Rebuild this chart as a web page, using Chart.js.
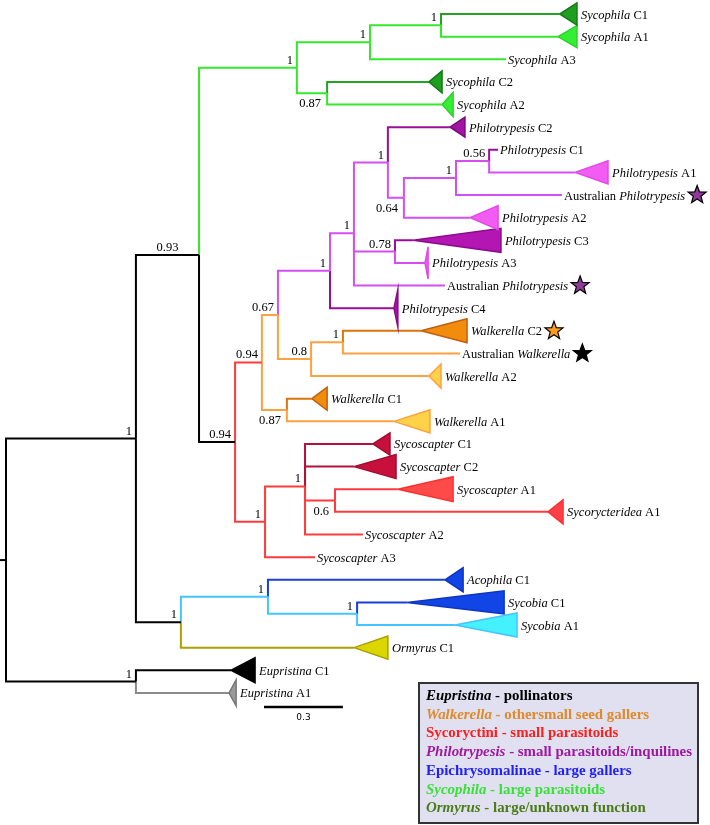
<!DOCTYPE html>
<html>
<head>
<meta charset="utf-8">
<script src="https://cdn.jsdelivr.net/npm/chart.js@4.4.0/dist/chart.umd.min.js"></script>
<style>
  html, body { margin: 0; padding: 0; background: #fff; }
  #wrap { position: relative; width: 710px; height: 825px; }
</style>
</head>
<body>
<div id="wrap"><canvas id="tree"></canvas></div>
<script>
// internal nodes: id, parent, depth from root (substitutions/site), support
var nodeIds = ['root', 'ING', 'EUP', 'A', 'L', 'S', 'S1', 'S11', 'S2', 'B', 'PW', 'PW2', 'P', 'P1',
  'P11', 'P111', 'P1111', 'P11111', 'P12', 'W', 'W1', 'WC', 'SY', 'SY1', 'SA', 'E', 'SB'];
var nodeParents = [null, 'root', 'root', 'ING', 'ING', 'A', 'S', 'S1', 'S', 'A', 'B', 'PW', 'PW2', 'P',
  'P1', 'P11', 'P111', 'P1111', 'P1', 'PW2', 'W', 'PW', 'B', 'SY', 'SY1', 'L', 'E'];
var nodeDepths = [0, 0.494, 0.494, 0.734, 0.665, 1.106, 1.384, 1.654, 1.221, 0.871, 0.973, 1.034, 1.232, 1.323,
  1.452, 1.513, 1.711, 1.837, 1.479, 1.160, 1.281, 1.068, 0.985, 1.137, 1.251, 0.996, 1.335];
var nodeSupport = ['', '1', '1', '0.93', '1', '1', '1', '1', '0.87', '0.94', '0.94', '0.67', '1', '1',
  '1', '0.64', '1', '0.56', '0.78', '0.8', '1', '0.87', '1', '1', '0.6', '1', '1'];
var rootStub = 0.03;

// tips, top to bottom
var tipIds = ['SycC1', 'SycA1', 'SycA3', 'SycC2', 'SycA2', 'PhC2', 'PhC1', 'PhA1', 'AusP', 'PhA2', 'PhC3',
  'PhA3', 'AusP2', 'PhC4', 'WaC2', 'AusW', 'WaA2', 'WaC1', 'WaA1', 'ScC1', 'ScC2', 'ScA1', 'SrA1', 'ScA2',
  'ScA3', 'AcoC1', 'SbC1', 'SbA1', 'OrmC1', 'EupC1', 'EupA1'];
var tipParents = ['S11', 'S11', 'S1', 'S2', 'S2', 'P11', 'P11111', 'P11111', 'P1111', 'P111', 'P12',
  'P12', 'P1', 'P', 'W1', 'W1', 'W', 'WC', 'WC', 'SY1', 'SY1', 'SA', 'SA', 'SY1',
  'SY', 'E', 'SB', 'SB', 'L', 'EUP', 'EUP'];
var tipDepths = [2.106, 2.099, 1.901, 1.608, 1.658, 1.688, 1.871, 2.163, 2.114, 1.764, 1.548,
  1.593, 1.669, 1.475, 1.578, 1.726, 1.608, 1.163, 1.475, 1.395, 1.323, 1.490, 2.061, 1.357,
  1.175, 1.669, 1.525, 1.707, 1.323, 0.856, 0.848];
// collapsed clades: deepest member and half-height (rows); null = single taxon
var cladeDepths = [2.171, 2.171, null, 1.658, 1.700, 1.745, null, 2.289, null, 1.871, 1.882,
  1.605, null, 1.490, 1.753, null, 1.654, 1.221, 1.612, 1.460, 1.483, 1.700, 2.118, null,
  null, 1.738, 1.894, 1.943, 1.452, 0.947, 0.875];
var cladeSpread = [0.49, 0.49, 0, 0.49, 0.53, 0.44, 0, 0.51, 0, 0.53, 0.53,
  0.71, 0, 0.84, 0.53, 0, 0.53, 0.51, 0.51, 0.49, 0.53, 0.55, 0.53, 0,
  0, 0.53, 0.51, 0.53, 0.51, 0.55, 0.57];
var tipPrefix = ['', '', '', '', '', '', '', '', 'Australian', '', '',
  '', 'Australian', '', '', 'Australian', '', '', '', '', '', '', '', '',
  '', '', '', '', '', '', ''];
var tipGenus = ['Sycophila', 'Sycophila', 'Sycophila', 'Sycophila', 'Sycophila', 'Philotrypesis',
  'Philotrypesis', 'Philotrypesis', 'Philotrypesis', 'Philotrypesis', 'Philotrypesis', 'Philotrypesis',
  'Philotrypesis', 'Philotrypesis', 'Walkerella', 'Walkerella', 'Walkerella', 'Walkerella', 'Walkerella',
  'Sycoscapter', 'Sycoscapter', 'Sycoscapter', 'Sycorycteridea', 'Sycoscapter', 'Sycoscapter',
  'Acophila', 'Sycobia', 'Sycobia', 'Ormyrus', 'Eupristina', 'Eupristina'];
var tipSuffix = ['C1', 'A1', 'A3', 'C2', 'A2', 'C2', 'C1', 'A1', '', 'A2', 'C3',
  'A3', '', 'C4', 'C2', '', 'A2', 'C1', 'A1', 'C1', 'C2', 'A1', 'A1', 'A2',
  'A3', 'C1', 'C1', 'A1', 'C1', 'C1', 'A1'];

var scaleBarLength = 0.3;

var legendGroups = ['Eupristina', 'Walkerella', 'Sycoryctini', 'Philotrypesis', 'Epichrysomalinae', 'Sycophila', 'Ormyrus'];
var legendRoles = ['pollinators', 'othersmall seed gallers', 'small parasitoids', 'small parasitoids/inquilines',
  'large gallers', 'large parasitoids', 'large/unknown function'];
var legendItalic = [true, true, false, true, false, true, true];

// ---- styles ----
var C = {
  black: '#000000', green: '#36e82c', dkgreen: '#22a422', magenta: '#d64ef2', purple: '#9a0e9a',
  orange: '#ffa140', dkorange: '#da7608', red: '#ff3a3a', crimson: '#b3103a', blue: '#1a3fd8',
  lblue: '#45c4ff', olive: '#aaa000', gray: '#8a8a8a'
};
var branchColors = {
  ING: C.black, EUP: C.black, A: C.black, L: C.black, S: C.green, S1: C.green, S11: C.green, S2: C.green,
  B: C.black, PW: C.red, PW2: C.orange, P: C.magenta, P1: C.magenta, P11: C.magenta, P111: C.magenta,
  P1111: C.magenta, P11111: C.magenta, P12: C.magenta, W: C.orange, W1: C.orange, WC: C.orange,
  SY: C.red, SY1: C.red, SA: C.red, E: C.lblue, SB: C.lblue,
  SycC1: C.dkgreen, SycA1: C.green, SycA3: C.green, SycC2: C.dkgreen, SycA2: C.green,
  PhC2: C.purple, PhC1: C.purple, PhA1: C.magenta, AusP: C.magenta, PhA2: C.magenta, PhC3: C.purple,
  PhA3: C.magenta, AusP2: C.magenta, PhC4: C.purple, WaC2: C.dkorange, AusW: C.orange, WaA2: C.orange,
  WaC1: C.dkorange, WaA1: C.orange, ScC1: C.crimson, ScC2: C.crimson, ScA1: C.red, SrA1: C.red,
  ScA2: C.red, ScA3: C.red, AcoC1: C.blue, SbC1: C.blue, SbA1: C.lblue, OrmC1: C.olive,
  EupC1: C.black, EupA1: C.gray
};
var cladeStyles = {
  SycC1: ['#1f9f1f', '#167a16'], SycA1: ['#33ee33', '#2ad42a'], SycC2: ['#1f9f1f', '#167a16'],
  SycA2: ['#33ee33', '#2ad42a'], PhC2: ['#a414a4', '#7a0a7a'], PhA1: ['#f25cf2', '#e04ae6'],
  PhA2: ['#f25cf2', '#e04ae6'], PhC3: ['#b416b4', '#8a0c8a'], PhA3: ['#f25cf2', '#e04ae6'],
  PhC4: ['#a414a4', '#8a0c8a'], WaC2: ['#f28c0c', '#c06010'], WaA2: ['#ffd24a', '#ffa040'],
  WaC1: ['#f28c0c', '#c06010'], WaA1: ['#ffd24a', '#ffa040'], ScC1: ['#c8103c', '#a00c30'],
  ScC2: ['#c8103c', '#a00c30'], ScA1: ['#ff4a4a', '#ff3030'], SrA1: ['#ff4048', '#ff3030'],
  AcoC1: ['#1245e6', '#0f35c0'], SbC1: ['#1245e6', '#0f35c0'], SbA1: ['#45f0ff', '#45c4ff'],
  OrmC1: ['#dcd600', '#a8a000'], EupC1: ['#000000', '#000000'], EupA1: ['#9a9a9a', '#777777']
};
var starColors = { AusP: '#8e3a98', AusP2: '#8e3a98', WaC2: '#ff9a1a', AusW: '#000000' };
var supportPlace = { A: 'mid', S2: 'below', P111: 'below', WC: 'below', SA: 'below' };
var legendColors = ['#000000', '#e08a2a', '#ff1e1e', '#9c1a9c', '#1e1eff', '#38e038', '#4a7d1a'];

var SERIF = '"Liberation Serif", "Times New Roman", serif';

function buildTree() {
  var depth = {}, parent = {}, children = {}, row = {};
  nodeIds.forEach(function (id, i) {
    depth[id] = nodeDepths[i];
    parent[id] = nodeParents[i];
    children[id] = [];
  });
  nodeIds.forEach(function (id, i) {
    if (nodeParents[i]) children[nodeParents[i]].push(id);
  });
  tipIds.forEach(function (id, i) {
    depth[id] = tipDepths[i];
    parent[id] = tipParents[i];
    row[id] = i;
    children[tipParents[i]].push(id);
  });
  function rowOf(id) {
    if (row[id] === undefined) {
      var s = 0;
      children[id].forEach(function (k) { s += rowOf(k); });
      row[id] = s / children[id].length;
    }
    return row[id];
  }
  rowOf('root');
  return { depth: depth, parent: parent, row: row };
}

var tree = buildTree();

function branchData(id) {
  var p = tree.parent[id];
  return [
    { x: tree.depth[p], y: tree.row[p] },
    { x: tree.depth[p], y: tree.row[id] },
    { x: tree.depth[id], y: tree.row[id] }
  ];
}

var datasets = [];
nodeIds.concat(tipIds).forEach(function (id) {
  if (!tree.parent[id]) return;
  datasets.push({
    data: branchData(id),
    borderColor: branchColors[id],
    order: 2
  });
});
datasets.push({
  data: [{ x: -rootStub, y: tree.row.root }, { x: 0, y: tree.row.root }],
  borderColor: C.black,
  order: 2
});
tipIds.forEach(function (id, i) {
  if (cladeDepths[i] === null) return;
  var st = cladeStyles[id];
  datasets.push({
    data: [
      { x: tipDepths[i], y: i },
      { x: cladeDepths[i], y: i - cladeSpread[i] },
      { x: cladeDepths[i], y: i + cladeSpread[i] },
      { x: tipDepths[i], y: i }
    ],
    borderColor: st[1],
    borderWidth: 1.5,
    shapeFill: st[0],
    order: 1
  });
});
// scale bar
datasets.push({
  data: [{ x: 0.981, y: 30.62 }, { x: 0.981 + scaleBarLength, y: 30.62 }],
  borderColor: C.black,
  borderWidth: 2.5,
  order: 1
});
datasets.forEach(function (d) {
  d.showLine = true;
  d.fill = false;
  d.pointRadius = 0;
  d.pointHoverRadius = 0;
  if (d.borderWidth === undefined) d.borderWidth = 2;
  d.borderJoinStyle = 'miter';
});

var shapePlugin = {
  id: 'shapeFill',
  beforeDatasetDraw: function (chart, args) {
    var ds = chart.data.datasets[args.index];
    if (!ds.shapeFill) return;
    var pts = args.meta.data;
    var ctx = chart.ctx;
    ctx.save();
    ctx.beginPath();
    pts.forEach(function (p, k) {
      if (k === 0) ctx.moveTo(p.x, p.y); else ctx.lineTo(p.x, p.y);
    });
    ctx.closePath();
    ctx.fillStyle = ds.shapeFill;
    ctx.fill();
    ctx.restore();
  }
};

function drawStar(ctx, cx, cy, r, fill) {
  ctx.save();
  ctx.beginPath();
  for (var k = 0; k < 10; k++) {
    var rr = k % 2 === 0 ? r : r * 0.42;
    var a = -Math.PI / 2 + k * Math.PI / 5;
    var x = cx + rr * Math.cos(a), y = cy + rr * Math.sin(a);
    if (k === 0) ctx.moveTo(x, y); else ctx.lineTo(x, y);
  }
  ctx.closePath();
  ctx.fillStyle = fill;
  ctx.fill();
  ctx.lineWidth = 1.2;
  ctx.strokeStyle = '#000';
  ctx.stroke();
  ctx.restore();
}

function drawParts(ctx, parts, x, y) {
  parts.forEach(function (p) {
    ctx.font = p.font;
    ctx.fillStyle = p.color || '#000';
    ctx.fillText(p.text, x, y);
    x += ctx.measureText(p.text).width;
  });
  return x;
}

var textPlugin = {
  id: 'treeText',
  afterDatasetsDraw: function (chart) {
    var ctx = chart.ctx;
    var xs = chart.scales.x, ys = chart.scales.y;
    var roman = '12.5px ' + SERIF, ital = 'italic 12.5px ' + SERIF;
    ctx.save();
    ctx.textBaseline = 'alphabetic';
    ctx.textAlign = 'left';

    // tip labels
    tipIds.forEach(function (id, i) {
      var end = cladeDepths[i] === null ? tipDepths[i] : cladeDepths[i];
      var x = xs.getPixelForValue(end) + (cladeDepths[i] === null ? 2 : 4);
      var y = ys.getPixelForValue(i) + 4.5;
      var parts = [];
      if (tipPrefix[i]) parts.push({ text: tipPrefix[i] + ' ', font: roman });
      parts.push({ text: tipGenus[i], font: ital });
      if (tipSuffix[i]) parts.push({ text: ' ' + tipSuffix[i], font: roman });
      var xe = drawParts(ctx, parts, x, y);
      if (starColors[id]) drawStar(ctx, xe + 12, y - 4.5, 9.5, starColors[id]);
    });

    // support values
    ctx.font = roman;
    ctx.fillStyle = '#000';
    nodeIds.forEach(function (id, i) {
      var s = nodeSupport[i];
      if (!s) return;
      var px = xs.getPixelForValue(tree.depth[id]);
      var py = ys.getPixelForValue(tree.row[id]);
      var place = supportPlace[id] || 'above';
      if (place === 'mid') {
        var pp = xs.getPixelForValue(tree.depth[tree.parent[id]]);
        ctx.textAlign = 'center';
        ctx.fillText(s, (px + pp) / 2, py - 4);
      } else if (place === 'below') {
        ctx.textAlign = 'right';
        ctx.fillText(s, px - 6, py + 14);
      } else {
        ctx.textAlign = 'right';
        ctx.fillText(s, px - 4, py - 4);
      }
    });

    // scale bar label
    ctx.textAlign = 'center';
    ctx.font = '9px "DejaVu Sans", sans-serif';
    ctx.fillText(String(scaleBarLength), xs.getPixelForValue(0.981 + scaleBarLength / 2), ys.getPixelForValue(30.62) + 13);

    // legend box
    var bx = 419, by = 683, bw = 279, bh = 140;
    ctx.fillStyle = '#e0e0f0';
    ctx.fillRect(bx, by, bw, bh);
    ctx.lineWidth = 2;
    ctx.strokeStyle = '#333';
    ctx.strokeRect(bx, by, bw, bh);
    ctx.textAlign = 'left';
    var bold = 'bold 14.9px ' + SERIF, boldIt = 'italic bold 14.9px ' + SERIF;
    legendGroups.forEach(function (g, k) {
      var col = legendColors[k];
      drawParts(ctx, [
        { text: g, font: legendItalic[k] ? boldIt : bold, color: col },
        { text: ' - ' + legendRoles[k], font: bold, color: col }
      ], 426, 700 + k * 18.7);
    });
    ctx.restore();
  }
};

new Chart(document.getElementById('tree'), {
  type: 'scatter',
  data: { datasets: datasets },
  options: {
    responsive: true,
    maintainAspectRatio: false,
    animation: false,
    events: [],
    layout: { padding: 0 },
    plugins: { legend: { display: false }, tooltip: { enabled: false } },
    scales: {
      x: { type: 'linear', display: false, min: -0.0228, max: 2.6768 },
      y: { type: 'linear', display: false, reverse: true, min: -0.6187, max: 35.837 }
    }
  },
  plugins: [shapePlugin, textPlugin]
});
</script>
</body>
</html>
